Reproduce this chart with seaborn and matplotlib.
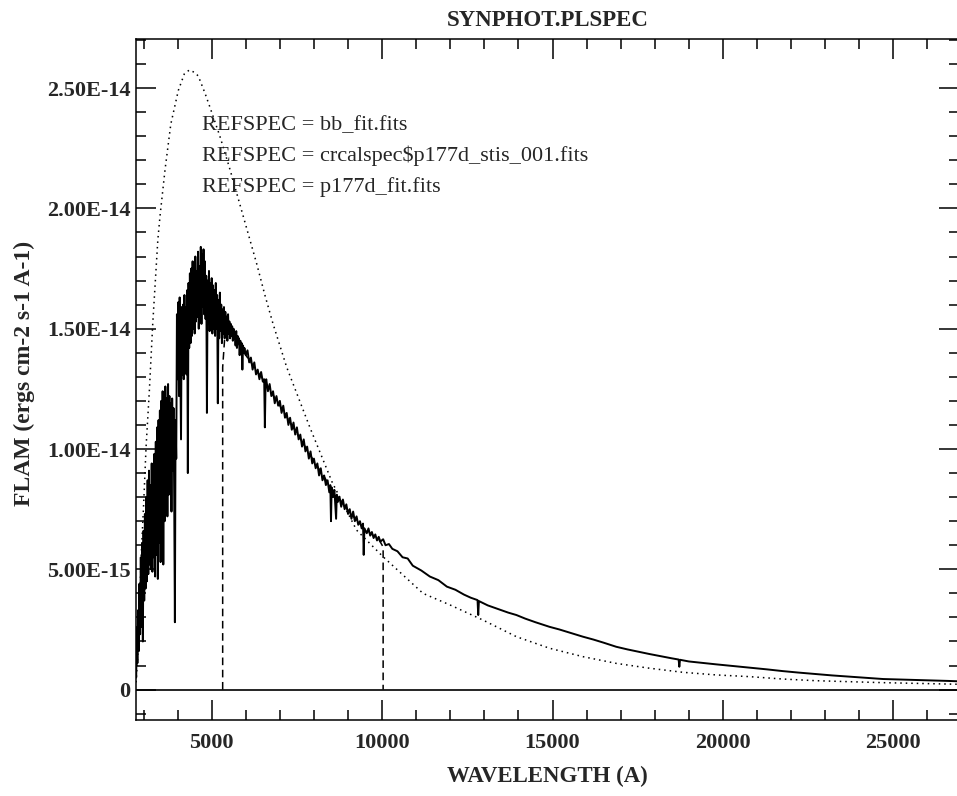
import numpy as np
import matplotlib
matplotlib.use("Agg")
from matplotlib import pyplot as plt
from matplotlib.ticker import MultipleLocator
import seaborn as sns

# observed spectrum (crcalspec$p177d_stis_001.fits), flux in 1e-15 units
spec_wl = [2785, 2800, 2820, 2840, 2860, 2880, 2900, 2920, 2940, 2960, 2980,
           3000, 3020, 3040, 3060, 3080, 3100, 3120, 3140, 3160, 3180,
           3200, 3220, 3240, 3260, 3280, 3300, 3320, 3340, 3360, 3380,
           3400, 3420, 3440, 3460, 3480, 3500, 3520, 3540, 3560, 3580,
           3600, 3620, 3640, 3660, 3680, 3700, 3720, 3740, 3760, 3780,
           3800, 3820, 3840, 3860, 3880, 3900, 3920, 3940, 3960, 3980,
           4000, 4020, 4040, 4060, 4080, 4100, 4120, 4140, 4160, 4180,
           4200, 4220, 4240, 4260, 4280, 4300, 4320, 4340, 4360, 4380,
           4400, 4420, 4440, 4460, 4480, 4500, 4520, 4540, 4560, 4580,
           4600, 4620, 4640, 4660, 4680, 4700, 4720, 4740, 4760, 4780,
           4800, 4820, 4840, 4860, 4880, 4900, 4920, 4940, 4960, 4980,
           5000, 5020, 5040, 5060, 5080, 5100, 5120, 5140, 5160, 5180,
           5200, 5220, 5240, 5260, 5280, 5300, 5320, 5340, 5360, 5380,
           5400, 5420, 5440, 5460, 5480, 5500, 5520, 5540, 5560, 5580,
           5600, 5620, 5640, 5660, 5680, 5700, 5720, 5740, 5760, 5780,
           5800, 5820, 5840, 5860, 5880, 5900, 5920, 5940, 5960, 6000,
           6050, 6100, 6150, 6200, 6250, 6300, 6350, 6400, 6450, 6500,
           6540, 6560, 6580,
           6600, 6650, 6700, 6750, 6800, 6850, 6900, 6950, 7000, 7050,
           7100, 7150, 7200, 7250, 7300, 7350, 7400, 7450, 7500, 7550,
           7600, 7650, 7700, 7750, 7800, 7850, 7900, 7950, 8000, 8050,
           8100, 8150, 8200, 8250, 8300, 8350, 8400, 8450, 8480, 8500,
           8520, 8560, 8600, 8650, 8670, 8700, 8750, 8800, 8850, 8900,
           8950, 9000, 9050, 9100, 9150, 9200, 9250, 9300, 9350, 9400,
           9440, 9460, 9480, 9550, 9600, 9650, 9700, 9750, 9800, 9850,
           9900, 9950, 10030, 10100, 10200, 10300, 10450, 10600, 10750, 10900,
           11150, 11400, 11650, 11900, 12150, 12400,
           12600, 12800, 12820, 12840, 13100, 13400, 13700, 13940, 14200, 14500,
           14910, 15200, 15500, 15890, 16200, 16500, 16870, 17200, 17500, 17840,
           18200, 18500, 18700, 18720, 18740, 19000, 19400, 19800, 20300, 20800,
           21300, 21750, 22200, 22700, 23200, 23700, 24200, 24700, 25200, 25650,
           26100, 26630, 27000]
spec_flux = [0.5, 2.6, 1.1, 3.3, 1.6, 4.4, 2.3, 5.5, 2.6, 6.1, 2.0,
             6.6, 3.7, 7.3, 4.2, 8.0, 4.5, 8.7, 4.8, 9.1, 5.2,
             8.5, 5.0, 9.4, 4.9, 9.2, 5.5, 9.8, 4.7, 10.3, 5.6,
             10.9, 4.6, 11.2, 6.1, 11.6, 5.3, 12.0, 6.6, 12.4, 5.2,
             11.8, 7.0, 12.6, 7.6, 12.1, 7.2, 12.7, 8.1, 12.2, 8.6,
             11.9, 7.4, 12.1, 9.1, 11.7, 8.0, 2.8, 11.2, 9.6, 15.6,
             12.9, 16.1, 12.2, 16.3, 13.4, 10.4, 15.9, 13.1, 16.0, 12.9,
             16.4, 13.6, 15.9, 13.1, 16.6, 9.0, 16.9, 14.2, 17.3, 14.4,
             17.5, 14.7, 17.8, 15.0, 17.6, 14.8, 18.0, 15.3, 17.4, 15.5,
             18.2, 15.0, 17.6, 15.8, 18.4, 15.2, 18.1, 15.9, 18.3, 15.6,
             17.8, 15.4, 17.2, 11.5, 17.0, 15.2, 17.4, 14.9, 16.9, 15.3,
             17.1, 14.8, 16.8, 15.0, 16.6, 14.7, 16.9, 15.0, 16.4, 11.9,
             16.2, 14.6, 16.5, 14.9, 16.0, 14.4, 15.8, 14.8, 15.9, 14.6,
             15.7, 14.9, 15.5, 14.5, 15.6, 14.8, 15.3, 14.6, 15.2, 14.7,
             15.1, 14.5, 15.0, 14.6, 14.8, 14.3, 14.9, 14.2, 14.7, 14.4,
             14.6, 13.9, 14.5, 14.2, 14.4, 13.3, 14.3, 14.0, 14.2, 13.9,
             14.1, 13.6, 13.8, 13.3, 13.6, 13.1, 13.3, 12.9, 13.2, 12.8,
             12.9, 10.9, 12.7,
             12.9, 12.4, 12.7, 12.2, 12.4, 11.9, 12.2, 11.8, 12.0, 11.5,
             11.8, 11.3, 11.5, 11.0, 11.3, 10.8, 11.1, 10.6, 10.9, 10.4,
             10.6, 10.1, 10.4, 9.9, 10.1, 9.6, 9.9, 9.4, 9.6, 9.2,
             9.4, 8.9, 9.2, 8.7, 8.9, 8.5, 8.7, 8.2, 8.5, 7.0,
             8.4, 8.0, 8.3, 7.1, 8.1, 7.8, 8.0, 7.6, 7.9, 7.5,
             7.7, 7.3, 7.5, 7.1, 7.4, 7.0, 7.2, 6.85, 7.0, 6.7,
             6.9, 5.6, 6.7, 6.5, 6.7, 6.4, 6.55, 6.3, 6.45, 6.2,
             6.35, 6.15, 6.25, 6.0, 6.05, 5.85, 5.75, 5.5, 5.45, 5.15,
             4.95, 4.7, 4.55, 4.28, 4.15, 3.95,
             3.82, 3.72, 3.1, 3.68, 3.5, 3.35, 3.2, 3.1, 2.95, 2.8,
             2.61, 2.5, 2.37, 2.2, 2.08, 1.95, 1.78, 1.67, 1.58, 1.48,
             1.38, 1.3, 1.25, 0.95, 1.24, 1.17, 1.11, 1.05, 0.98, 0.91,
             0.84, 0.77, 0.71, 0.65, 0.59, 0.54, 0.49, 0.44, 0.42, 0.40,
             0.38, 0.36, 0.34]

# blackbody fit (bb_fit.fits)
bb_wl = [2780, 2830, 2880, 2930, 3000, 3075, 3170, 3270, 3420, 3485,
         3630, 3800, 4020, 4200, 4344, 4500, 4607, 4800, 4950, 5240,
         5540, 5930, 6320, 6560, 6800, 7200, 7880, 8540, 9250, 10030,
         11200, 11990, 12960, 13940, 14910, 15890, 16870, 17840, 18820, 19800,
         20770, 21750, 22730, 23700, 24670, 25650, 26630, 27000]
bb_flux = [0.3, 1.4, 3.3, 5.5, 7.6, 10.1, 12.4, 15.2, 18.7, 19.7,
           21.6, 23.5, 24.9, 25.6, 25.75, 25.65, 25.5, 24.8, 24.2, 23.0,
           21.6, 19.65, 17.7, 16.4, 15.2, 13.4, 10.9, 8.6, 6.63, 5.52,
           4.0, 3.52, 2.89, 2.2, 1.72, 1.37, 1.09, 0.89, 0.72, 0.61,
           0.54, 0.44, 0.37, 0.33, 0.29, 0.26, 0.23, 0.22]

# model fit (p177d_fit.fits), only over 5322-10030 A, mostly hidden under the spectrum
fit_wl = [5322, 5322, 5400, 5600, 6000, 6500, 7000, 7500, 8000, 8500, 9000, 9500, 9900, 10030, 10030]
fit_flux = [0.0, 13.4, 15.0, 14.8, 13.9, 12.9, 11.8, 10.65, 9.5, 8.4, 7.45, 6.65, 6.25, 5.93, 0.0]

ytick_vals = [0, 5e-15, 1e-14, 1.5e-14, 2e-14, 2.5e-14]
ytick_labels = ["0", "5.00E-15", "1.00E-14", "1.50E-14", "2.00E-14", "2.50E-14"]
xtick_vals = [5000, 10000, 15000, 20000, 25000]
refspec_labels = ["REFSPEC = bb_fit.fits",
                  "REFSPEC = crcalspec\\$p177d_stis_001.fits",
                  "REFSPEC = p177d_fit.fits"]

sns.set_style("ticks")
plt.rcParams['font.family'] = ['Liberation Serif', 'DejaVu Serif']

W, H = 957, 796
fig = plt.figure(figsize=(W / 100, H / 100), dpi=100)
ax = fig.add_axes([136 / W, 76 / H, (959 - 136) / W, (757 - 76) / H])

scale = 1e-15
sns.lineplot(x=bb_wl, y=np.array(bb_flux) * scale, ax=ax, sort=False, estimator=None,
             color="black", linewidth=1.1, linestyle=(0, (1, 2.6)))
sns.lineplot(x=fit_wl, y=np.array(fit_flux) * scale, ax=ax, sort=False, estimator=None,
             color="black", linewidth=1.1, linestyle=(0, (5, 3)))
sns.lineplot(x=spec_wl, y=np.array(spec_flux) * scale, ax=ax, sort=False, estimator=None,
             color="black", linewidth=1.4)
ax.axhline(0, color="black", linewidth=1.2)

ax.set_xlim(2779, 26926)
ax.set_ylim(-1.263e-15, 2.704e-14)
ax.set_xlabel("")
ax.set_ylabel("")

ax.set_xticks(xtick_vals)
ax.xaxis.set_minor_locator(MultipleLocator(1000))
ax.set_yticks(ytick_vals)
ax.set_yticklabels(ytick_labels)
ax.yaxis.set_minor_locator(MultipleLocator(1e-15))

ax.tick_params(which="both", direction="in", top=True, right=True, width=1.1, color="black")
ax.tick_params(which="major", length=14.5)
ax.tick_params(which="minor", length=7)
ax.tick_params(axis="x", which="major", pad=9, labelsize=16)
ax.tick_params(axis="y", which="major", pad=4, labelsize=16)
for lab in ax.get_xticklabels() + ax.get_yticklabels():
    lab.set_fontweight("bold")
for sp in ax.spines.values():
    sp.set_linewidth(1.1)
    sp.set_color("black")

fig.text(548 / W, 1 - 21 / H, "SYNPHOT.PLSPEC", ha="center", va="center",
         fontsize=16.5, fontweight="bold")
fig.text(547 / W, 1 - 776 / H, "WAVELENGTH (A)", ha="center", va="center",
         fontsize=16.5, fontweight="bold")
fig.text(24 / W, 1 - 373 / H, "FLAM (ergs cm-2 s-1 A-1)", ha="center", va="center",
         rotation=90, fontsize=17, fontweight="bold")

for i, txt in enumerate(refspec_labels):
    fig.text(202 / W, 1 - (130 + 31 * i) / H, txt, ha="left", va="baseline", fontsize=16)

fig.savefig("out.png", dpi=100)
